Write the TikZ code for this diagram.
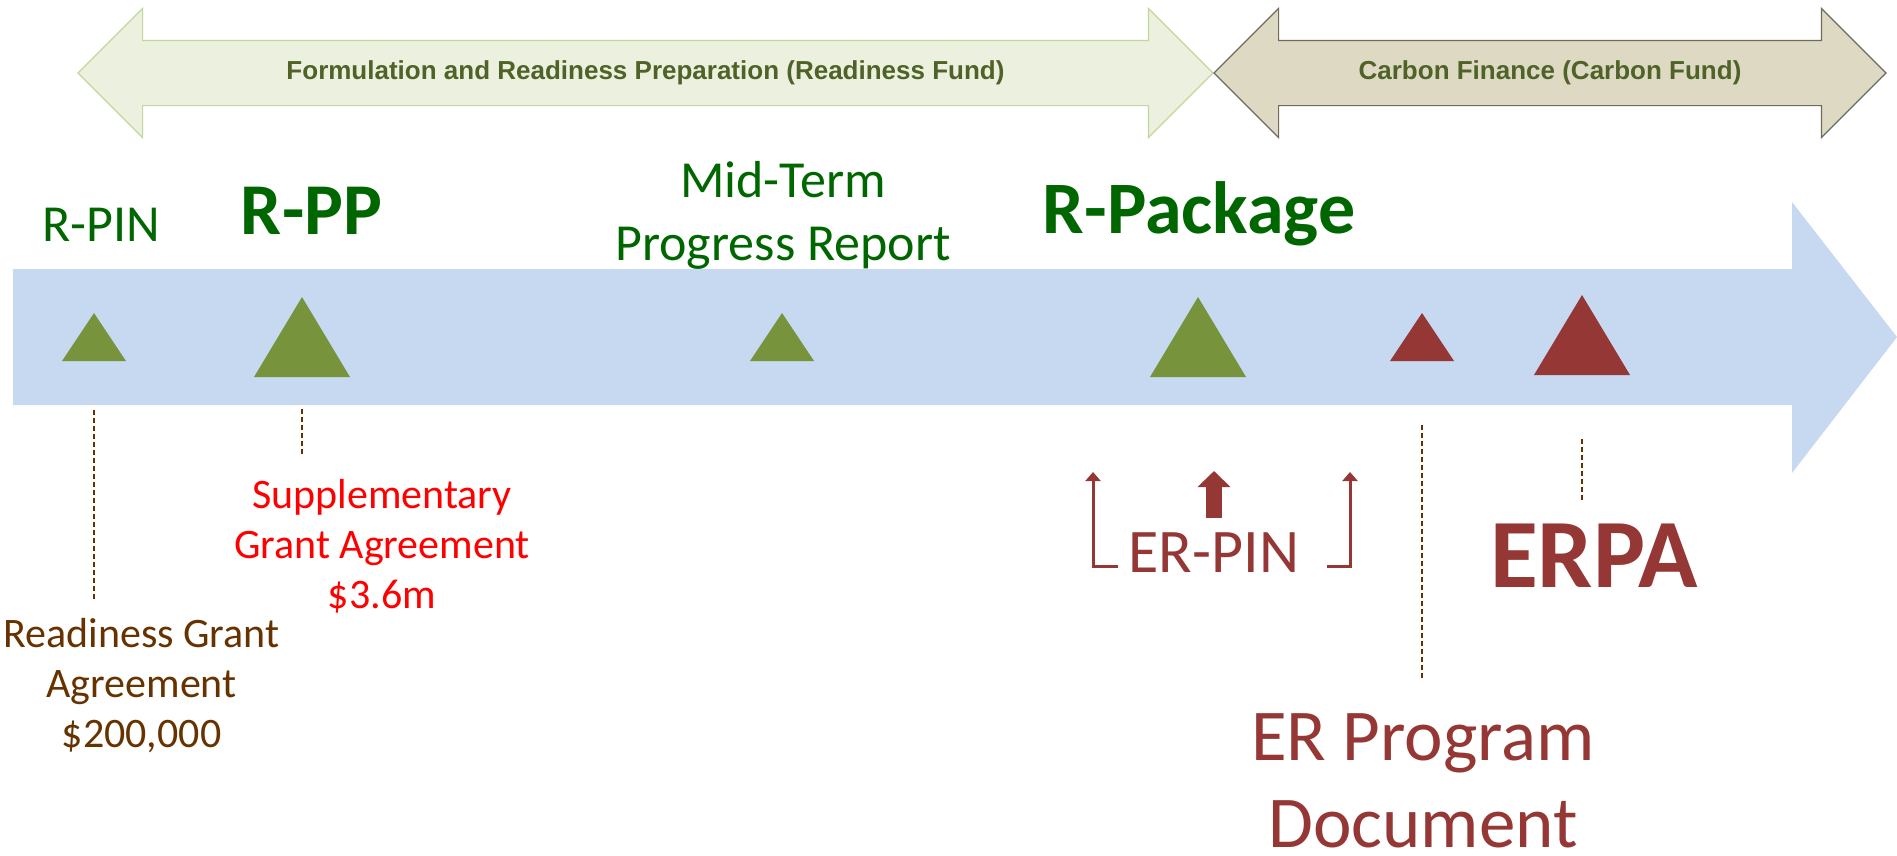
\documentclass[tikz,border=0pt]{standalone}
\usepackage{fontspec}
\setmainfont{Carlito}
\newfontfamily\headfont{Liberation Sans}
\usetikzlibrary{shapes.arrows,arrows.meta}

\definecolor{phasegreen}{HTML}{EBF1DE}
\definecolor{phasegreenline}{HTML}{C3D69B}
\definecolor{phasetan}{HTML}{DDD9C3}
\definecolor{phasetanline}{HTML}{6E6B5E}
\definecolor{phasetext}{HTML}{4F6228}
\definecolor{timeline}{HTML}{C6D9F1}
\definecolor{mgreen}{HTML}{77933C}
\definecolor{mred}{HTML}{953735}
\definecolor{labgreen}{HTML}{006600}
\definecolor{labbrown}{HTML}{663300}

\tikzset{
	phase/.style={double arrow, double arrow tip angle=90, double arrow head extend=32pt, minimum width=128pt, inner xsep=0pt, inner ysep=0pt, text height=38pt, text depth=26pt, line width=1.2pt, text=phasetext, font=\headfont\bfseries\fontsize{26}{31}\selectfont},
	lab/.style={anchor=base, inner sep=0pt, align=center},
	tick/.style={draw=labbrown, line width=2pt, dash pattern=on 5pt off 3pt},
	erarrow/.style={draw=mred, line width=3pt, -{Triangle[width=15pt,length=9pt]}}
}

\begin{document}
\begin{tikzpicture}[x=1pt, y=-1pt]
	
	\useasboundingbox (0, 0) rectangle (1897, 855);
	
	\node[phase, fill=phasegreen, draw=phasegreenline, minimum height=1135pt] (readiness) at (645.5, 73) {Formulation and Readiness Preparation (Readiness Fund)};
	\node[phase, fill=phasetan, draw=phasetanline, minimum height=672pt] (carbon) at (1550, 73) {Carbon Finance (Carbon Fund)};
	
	\fill[timeline] (13, 269) -- (1792, 269) -- (1792, 202) -- (1897, 337) -- (1792, 473) -- (1792, 405) -- (13, 405) -- cycle;
	
	\fill[mgreen] (94, 313) -- (126, 361) -- (62, 361) -- cycle;
	\fill[mgreen] (302, 297) -- (350, 377) -- (254, 377) -- cycle;
	\fill[mgreen] (782, 313) -- (814, 361) -- (750, 361) -- cycle;
	\fill[mgreen] (1198, 297) -- (1246, 377) -- (1150, 377) -- cycle;
	\fill[mred] (1422, 313) -- (1454, 361) -- (1390, 361) -- cycle;
	\fill[mred] (1582, 295) -- (1630, 375) -- (1534, 375) -- cycle;
	
	\node[lab, text=labgreen, font=\fontsize{52}{62}\selectfont] (rpin) at (101.5, 241) {R-PIN};
	\node[lab, text=labgreen, font=\bfseries\fontsize{73}{88}\selectfont] (rpp) at (311.5, 234) {R-PP};
	\node[lab, text=labgreen, font=\fontsize{52}{63}\selectfont] (midterm) at (783, 260) {Mid-Term\\Progress Report};
	\node[lab, text=labgreen, font=\bfseries\fontsize{74}{89}\selectfont] (rpackage) at (1199, 233) {R-Package};
	
	\node[lab, text=labbrown, font=\fontsize{42}{50}\selectfont] (rga) at (141.5, 747) {Readiness Grant\\Agreement\\\$200,000};
	\node[lab, text=red, font=\fontsize{42}{50}\selectfont] (sga) at (382, 608) {Supplementary\\Grant Agreement\\\$3.6m};
	\node[lab, text=mred, font=\fontsize{62}{74}\selectfont] (erpin) at (1214, 572) {ER-PIN};
	\node[lab, text=mred, font=\bfseries\fontsize{98}{118}\selectfont] (erpa) at (1594, 587) {ERPA};
	\node[lab, text=mred, font=\fontsize{73}{87}\selectfont] (erpd) at (1423, 847) {ER Program\\Document};
	
	\coordinate (rpin top) at (94, 410);
	\coordinate (rpin foot) at (94, 599);
	\coordinate (rpp top) at (302, 409);
	\coordinate (rpp foot) at (302, 455);
	\coordinate (erpd top) at (1422, 425);
	\coordinate (erpd foot) at (1422, 678);
	\coordinate (erpa top) at (1582, 439);
	\coordinate (erpa foot) at (1582, 500);
	
	\draw[tick] (rpin top) -- (rpin foot);
	\draw[tick] (rpp top) -- (rpp foot);
	\draw[tick] (erpd top) -- (erpd foot);
	\draw[tick] (erpa top) -- (erpa foot);
	
	\coordinate (left foot) at (1118, 566);
	\coordinate (left corner) at (1093, 566);
	\coordinate (left tip) at (1093, 472);
	\coordinate (right foot) at (1327, 566);
	\coordinate (right corner) at (1350, 566);
	\coordinate (right tip) at (1350, 472);
	\coordinate (mid foot) at (1214, 518);
	\coordinate (mid tip) at (1214, 471);
	
	\draw[erarrow] (left foot) -- (left corner) -- (left tip);
	\draw[erarrow] (right foot) -- (right corner) -- (right tip);
	\draw[draw=mred, line width=16pt, -{Triangle[width=32pt,length=16pt]}] (mid foot) -- (mid tip);
	
\end{tikzpicture}
\end{document}
